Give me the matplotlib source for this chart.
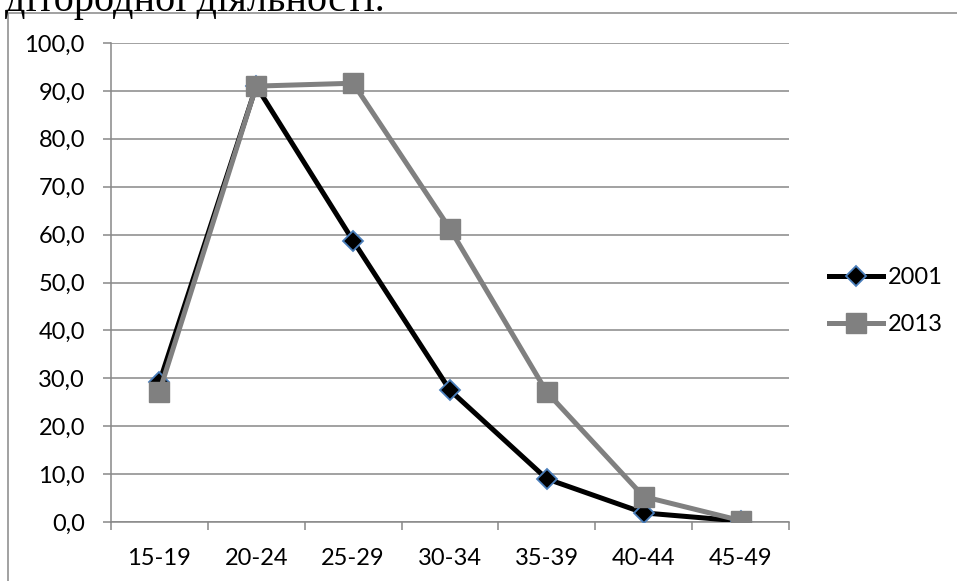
import matplotlib
matplotlib.use("Agg")
import matplotlib.pyplot as plt
from matplotlib.lines import Line2D
import numpy as np

# age groups and fertility by year
age_groups = ["15-19", "20-24", "25-29", "30-34", "35-39", "40-44", "45-49"]
rate_2001 = [29.2, 91.0, 58.7, 27.5, 9.0, 1.9, 0.2]
rate_2013 = [27.2, 91.0, 91.6, 61.2, 27.1, 5.3, 0.3]
y_ticks = np.arange(0, 101, 10)
y_labels = [f"{v:.1f}".replace(".", ",") for v in y_ticks]

plt.rcParams["font.family"] = ["Lato", "DejaVu Sans"]
grid_c = "#888888"
fs = 17

fig = plt.figure(figsize=(9.57, 5.81), dpi=100)
W, H = 957, 581
ax = fig.add_axes([111 / W, 1 - 522 / H, (789 - 111) / W, (522 - 43) / H])

x = np.arange(len(age_groups))
ax.plot(x, rate_2001, color="black", lw=3.6, marker="D", ms=10,
        mfc="black", mec="#4a7ebb", mew=1.3, label="2001", zorder=3)
ax.plot(x, rate_2013, color="#808080", lw=3.6, marker="s", ms=14,
        mfc="#808080", mec="#808080", label="2013", zorder=4)

ax.set_xlim(-0.5, len(age_groups) - 0.5)
ax.set_ylim(0, 100)
ax.set_yticks(y_ticks)
ax.set_yticklabels(y_labels)
ax.set_xticks(x)
ax.set_xticklabels(age_groups)
ax.set_xticks(np.arange(-0.5, len(age_groups)), minor=True)
ax.tick_params(axis="x", which="major", length=0, pad=19, labelsize=fs)
ax.tick_params(axis="x", which="minor", length=5.8, width=1.1, color=grid_c, direction="out")
ax.tick_params(axis="y", length=5.8, width=1.1, color=grid_c, pad=13, labelsize=fs)
ax.yaxis.grid(True, color=grid_c, lw=1.1)
ax.set_axisbelow(True)
for s in ["top", "right"]:
    ax.spines[s].set_visible(False)
for s in ["left", "bottom"]:
    ax.spines[s].set_color(grid_c)
    ax.spines[s].set_linewidth(1.1)

ax.legend(loc="center left", bbox_to_anchor=(829 / W, 1 - 301 / H),
          bbox_transform=fig.transFigure, frameon=False, fontsize=fs,
          handlelength=2.3, handletextpad=0.2, labelspacing=1.12,
          borderpad=0, borderaxespad=0)

# outer chart frame (cut by image edges)
fig.add_artist(Line2D([8 / W, 8 / W, 1.0], [0.0, 1 - 13 / H, 1 - 13 / H],
                      transform=fig.transFigure, color=grid_c, lw=1.1))

# caption text cut off at the top of the image
fig.text(5 / W, 1 - 11 / H, "дітородної діяльності.", family="Liberation Serif",
         fontsize=29, va="baseline", ha="left")

fig.savefig("out.png", dpi=100)
